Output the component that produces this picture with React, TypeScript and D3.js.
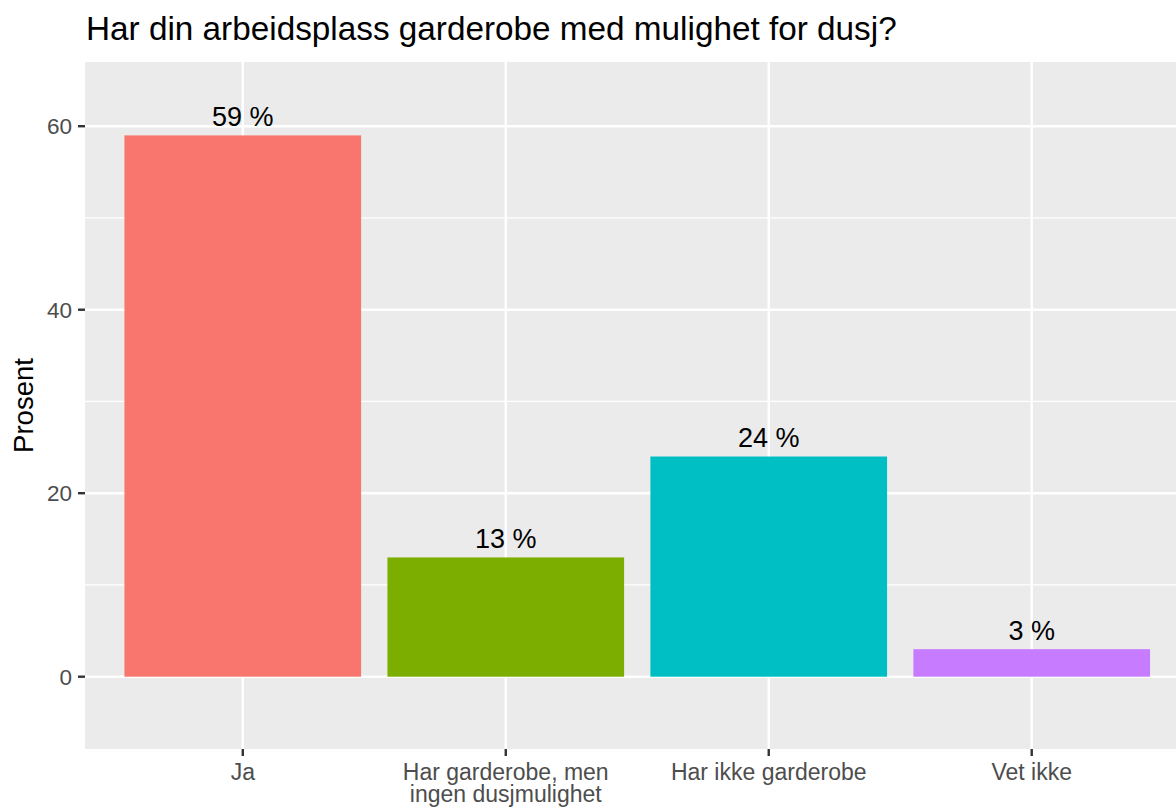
import React from 'react';
import * as d3 from 'd3';

const categories = ['Ja', 'Har garderobe, men|ingen dusjmulighet', 'Har ikke garderobe', 'Vet ikke'];
const values = [59, 13, 24, 3];
const barLabels = ['59 %', '13 %', '24 %', '3 %'];
const colors = ['#F8766D', '#7CAE00', '#00BFC4', '#C77CFF'];
const yTicks = [0, 20, 40, 60];
const yMinor = [10, 30, 50];

const title = 'Har din arbeidsplass garderobe med mulighet for dusj?';
const yTitle = 'Prosent';

export default function App() {
  const width = 1176;
  const height = 809;
  const panel = { left: 85, top: 62, right: 1189.5, bottom: 749 };
  const font = '"Liberation Sans", Arial, Helvetica, sans-serif';

  // discrete axis with 0.6 unit expansion on each side
  const step = (panel.right - panel.left) / (categories.length - 1 + 1.2);
  const xc = (i: number) => panel.left + step * (0.6 + i);
  const barW = step * 0.9;

  const y = d3.scaleLinear().domain([-7.88, 67.0]).range([panel.bottom, panel.top]);

  return (
    <svg width={width} height={height} style={{ position: 'absolute', left: 0, top: 0, fontFamily: font }}>
      <rect x={0} y={0} width={width} height={height} fill="#ffffff" />
      <text x={86} y={40} fontSize={33.3} fill="#000000">{title}</text>

      <rect x={panel.left} y={panel.top} width={panel.right - panel.left} height={panel.bottom - panel.top} fill="#EBEBEB" />
      {yMinor.map(t => (
        <line key={'mi' + t} x1={panel.left} x2={panel.right} y1={y(t)} y2={y(t)} stroke="#ffffff" strokeWidth={1.2} />
      ))}
      {yTicks.map(t => (
        <line key={'ma' + t} x1={panel.left} x2={panel.right} y1={y(t)} y2={y(t)} stroke="#ffffff" strokeWidth={2.4} />
      ))}
      {categories.map((c, i) => (
        <line key={'v' + i} x1={xc(i)} x2={xc(i)} y1={panel.top} y2={panel.bottom} stroke="#ffffff" strokeWidth={2.4} />
      ))}

      {values.map((v, i) => (
        <rect key={'b' + i} x={xc(i) - barW / 2} y={y(v)} width={barW} height={y(0) - y(v)} fill={colors[i]} />
      ))}
      {values.map((v, i) => (
        <text key={'l' + i} x={xc(i)} y={y(v) - 9.5} fontSize={27} textAnchor="middle" fill="#000000">{barLabels[i]}</text>
      ))}

      {yTicks.map(t => (
        <g key={'yt' + t}>
          <line x1={panel.left - 7} x2={panel.left} y1={y(t)} y2={y(t)} stroke="#333333" strokeWidth={2.4} />
          <text x={panel.left - 13} y={y(t)} dy="0.35em" fontSize={22.5} textAnchor="end" fill="#4D4D4D">{t}</text>
        </g>
      ))}
      {categories.map((c, i) => (
        <g key={'xt' + i}>
          <line x1={xc(i)} x2={xc(i)} y1={panel.bottom} y2={panel.bottom + 7} stroke="#333333" strokeWidth={2.4} />
          {c.split('|').map((line, j) => (
            <text key={j} x={xc(i)} y={780 + j * 21.7} fontSize={23} textAnchor="middle" fill="#4D4D4D">{line}</text>
          ))}
        </g>
      ))}

      <text transform={`translate(33, ${(panel.top + panel.bottom) / 2}) rotate(-90)`} fontSize={27.5} textAnchor="middle" fill="#000000">{yTitle}</text>
    </svg>
  );
}
